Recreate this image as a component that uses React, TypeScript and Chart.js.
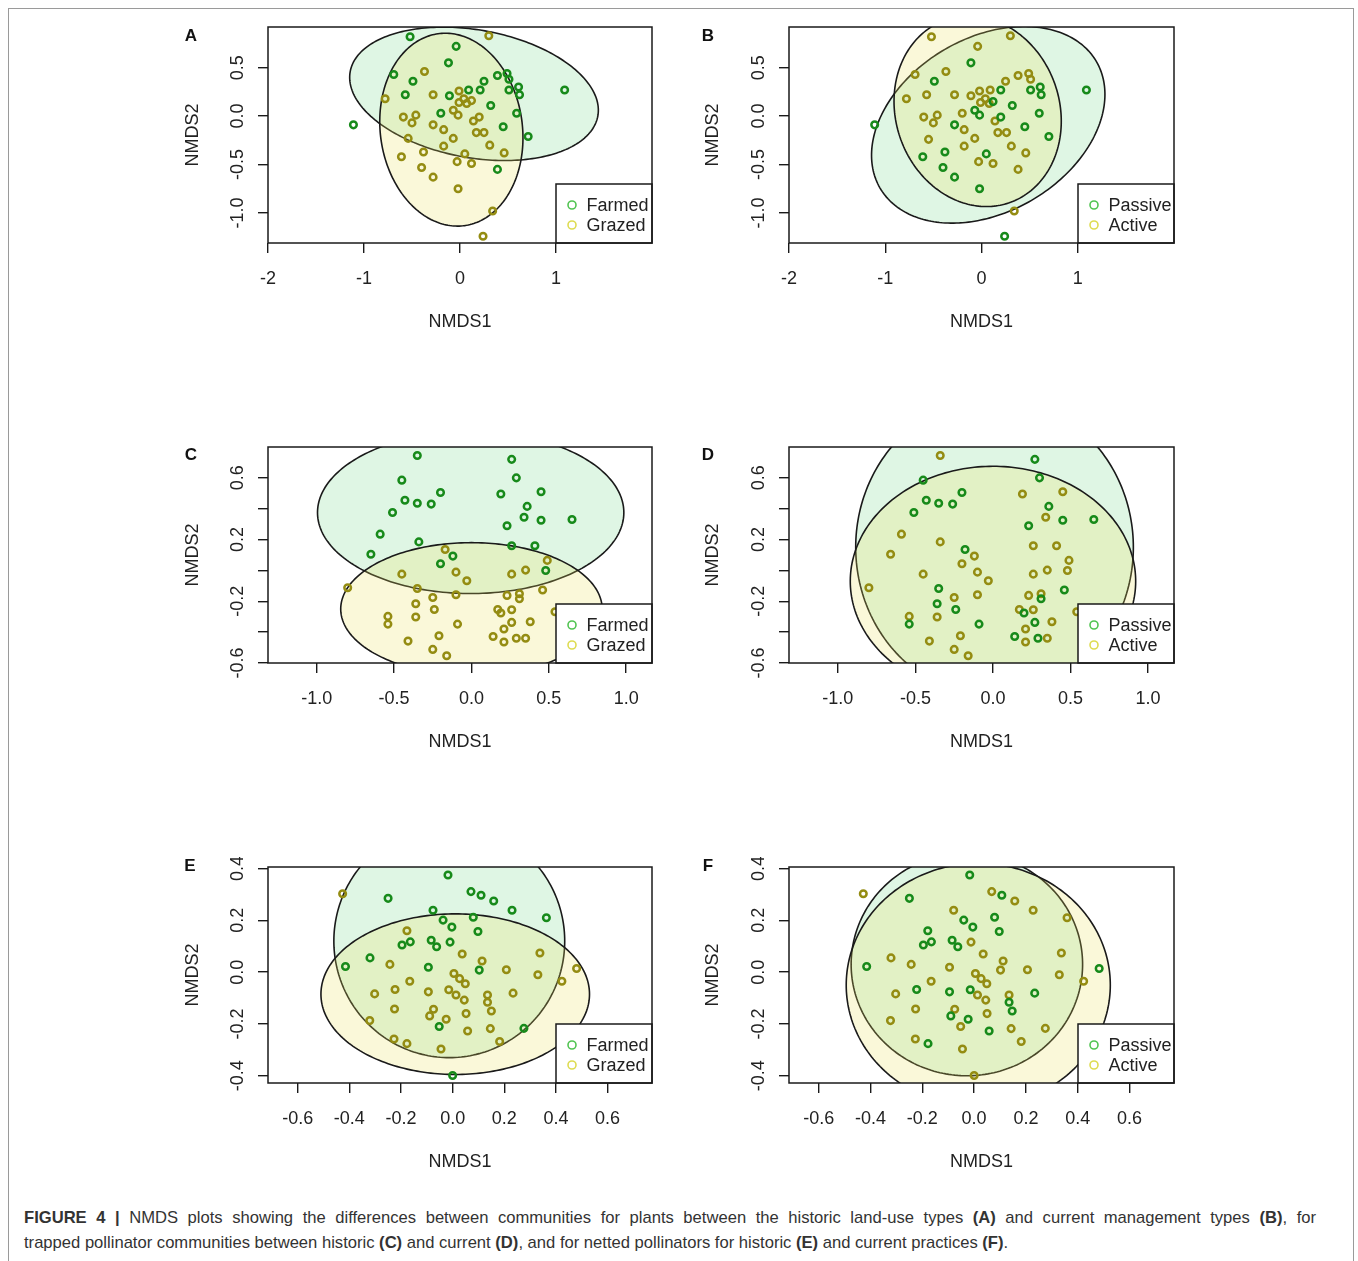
import React, { useEffect, useRef } from 'react';
import { Chart, registerables } from 'chart.js';

Chart.register(...registerables);

type Pt = [number, number];

// ---------------- Panel A (plants, historic land use) ----------------
const aFarmed: Pt[] = [
  [-0.52, 0.82], [-0.04, 0.72], [-0.12, 0.55], [-0.69, 0.43], [-0.49, 0.36], [-0.57, 0.22],
  [-0.11, 0.21], [0.09, 0.27], [0.21, 0.27], [0.25, 0.36], [0.39, 0.42], [0.49, 0.44],
  [0.51, 0.38], [0.51, 0.27], [0.61, 0.3], [0.62, 0.22], [1.09, 0.27], [0.32, 0.11],
  [0.59, 0.03], [-0.2, 0.03], [-1.11, -0.09], [0.45, -0.11], [0.71, -0.21], [0.39, -0.55],
];
const aGrazed: Pt[] = [
  [0.3, 0.83], [-0.37, 0.46], [-0.78, 0.18], [-0.28, 0.22], [-0.01, 0.26], [0.04, 0.18],
  [0.12, 0.16], [0.07, 0.13], [-0.01, 0.14], [-0.07, 0.06], [-0.02, 0.01], [-0.59, -0.01],
  [-0.46, 0.01], [-0.5, -0.07], [-0.28, -0.09], [-0.17, -0.14], [0.2, -0.01], [0.14, -0.05],
  [0.17, -0.17], [0.25, -0.17], [-0.54, -0.23], [-0.07, -0.23], [-0.17, -0.31], [0.31, -0.3],
  [0.46, -0.38], [-0.38, -0.37], [0.05, -0.39], [-0.61, -0.42], [-0.03, -0.47], [0.12, -0.49],
  [-0.4, -0.53], [-0.28, -0.63], [-0.02, -0.75], [0.34, -0.98], [0.24, -1.24],
];
// ellipse: [centre x, centre y, semi-axis a, semi-axis b, rotation in degrees]
const aFarmedEllipse = [0.146, 0.23, 1.31, 0.66, -10];
const aGrazedEllipse = [-0.09, -0.14, 1.0, 0.74, 98];

// ---------------- Panel B (plants, current management) ----------------
const bPassive: Pt[] = [
  [-0.11, 0.55], [-0.49, 0.36], [0.2, 0.27], [0.51, 0.27], [0.61, 0.3], [0.62, 0.22],
  [1.09, 0.27], [0.12, 0.15], [0.32, 0.11], [-0.07, 0.06], [-0.02, 0.01], [0.2, -0.01],
  [0.6, 0.03], [-1.11, -0.09], [-0.28, -0.09], [0.45, -0.11], [0.7, -0.21], [-0.38, -0.37],
  [0.05, -0.39], [-0.61, -0.42], [-0.4, -0.53], [-0.28, -0.63], [-0.02, -0.75], [0.24, -1.24],
];
const bActive: Pt[] = [
  [-0.52, 0.82], [0.3, 0.83], [-0.04, 0.72], [-0.37, 0.46], [-0.69, 0.43], [0.38, 0.42],
  [0.49, 0.44], [0.51, 0.38], [0.25, 0.36], [-0.78, 0.18], [-0.57, 0.22], [-0.28, 0.22],
  [-0.02, 0.26], [0.09, 0.27], [-0.11, 0.21], [0.04, 0.18], [-0.01, 0.14], [0.08, 0.13],
  [-0.6, -0.01], [-0.46, 0.01], [-0.5, -0.07], [-0.2, 0.03], [0.14, -0.05], [-0.18, -0.14],
  [0.17, -0.17], [0.26, -0.17], [-0.55, -0.24], [-0.07, -0.23], [-0.18, -0.31], [0.31, -0.31],
  [0.46, -0.38], [-0.03, -0.47], [0.12, -0.49], [0.38, -0.55], [0.34, -0.98],
];
const bPassiveEllipse = [0.07, -0.09, 1.3, 0.9, 30];
const bActiveEllipse = [-0.04, 0.05, 1.0, 0.85, 110];

// ---------------- Panel C (trapped pollinators, historic) ----------------
const cFarmed: Pt[] = [
  [-0.35, 0.745], [0.26, 0.72], [0.29, 0.6], [-0.45, 0.585], [-0.2, 0.505], [0.19, 0.495],
  [0.45, 0.51], [-0.43, 0.455], [-0.35, 0.435], [-0.26, 0.43], [0.36, 0.415], [-0.51, 0.375],
  [0.34, 0.345], [0.45, 0.325], [0.65, 0.33], [0.23, 0.29], [-0.59, 0.235], [-0.34, 0.185],
  [0.26, 0.16], [0.41, 0.16], [-0.65, 0.105], [-0.12, 0.093], [-0.2, 0.043], [0.48, 0.0],
];
const cGrazed: Pt[] = [
  [-0.17, 0.136], [-0.45, -0.024], [-0.1, -0.011], [-0.03, -0.067], [0.26, -0.024], [0.35, 0.002],
  [0.49, 0.065], [-0.8, -0.112], [-0.35, -0.117], [-0.1, -0.158], [-0.25, -0.175], [0.23, -0.162],
  [0.31, -0.151], [0.31, -0.184], [0.46, -0.127], [-0.36, -0.216], [-0.24, -0.253], [0.17, -0.253],
  [0.19, -0.276], [0.26, -0.255], [0.54, -0.268], [-0.54, -0.298], [-0.54, -0.348], [-0.36, -0.302],
  [-0.09, -0.348], [0.26, -0.337], [0.38, -0.333], [0.21, -0.38], [-0.21, -0.423], [0.14, -0.428],
  [0.29, -0.44], [0.35, -0.44], [-0.41, -0.458], [0.21, -0.464], [-0.25, -0.512], [-0.16, -0.553],
];
const cFarmedEllipse = [-0.005, 0.375, 0.99, 0.525, 0];
const cGrazedEllipse = [0.0, -0.25, 0.845, 0.43, 0];

// ---------------- Panel D (trapped pollinators, current) ----------------
const dPassive: Pt[] = [
  [0.27, 0.72], [0.3, 0.6], [-0.45, 0.585], [-0.2, 0.505], [-0.43, 0.455], [-0.35, 0.435],
  [-0.26, 0.43], [-0.51, 0.375], [0.36, 0.415], [0.45, 0.325], [0.65, 0.33], [0.23, 0.29],
  [-0.18, 0.136], [-0.35, -0.117], [-0.36, -0.216], [-0.24, -0.253], [0.2, -0.276], [0.31, -0.184],
  [0.46, -0.127], [-0.54, -0.348], [-0.09, -0.348], [0.27, -0.337], [0.14, -0.428], [0.29, -0.44],
];
const dActive: Pt[] = [
  [-0.34, 0.745], [0.19, 0.495], [0.45, 0.51], [0.34, 0.345], [-0.59, 0.235], [-0.34, 0.185],
  [0.26, 0.16], [0.41, 0.16], [-0.66, 0.105], [-0.12, 0.093], [-0.2, 0.043], [0.49, 0.065],
  [-0.45, -0.024], [-0.1, -0.011], [-0.03, -0.067], [0.26, -0.024], [0.35, 0.002], [0.48, 0.0],
  [-0.8, -0.112], [-0.1, -0.158], [-0.25, -0.175], [0.23, -0.162], [0.31, -0.151], [0.17, -0.253],
  [0.26, -0.255], [0.54, -0.268], [-0.54, -0.298], [-0.36, -0.302], [0.38, -0.333], [0.21, -0.38],
  [-0.21, -0.423], [0.35, -0.44], [-0.41, -0.458], [0.21, -0.464], [-0.25, -0.512], [-0.16, -0.553],
];
const dPassiveEllipse = [0.01, 0.15, 0.895, 0.97, 0];
const dActiveEllipse = [0.0, -0.07, 0.92, 0.745, 0];

// ---------------- Panel E (netted pollinators, historic) ----------------
const eFarmed: Pt[] = [
  [-0.018, 0.375], [-0.25, 0.285], [0.071, 0.311], [0.11, 0.297], [0.159, 0.275], [0.23, 0.239],
  [-0.076, 0.239], [0.08, 0.212], [0.363, 0.21], [-0.037, 0.201], [-0.003, 0.174], [0.098, 0.157],
  [-0.196, 0.105], [-0.164, 0.117], [-0.083, 0.123], [-0.062, 0.098], [-0.01, 0.116], [-0.32, 0.055],
  [-0.415, 0.022], [-0.094, 0.019], [0.103, 0.008], [-0.052, -0.21], [0.276, -0.217], [0.0, -0.399],
];
const eGrazed: Pt[] = [
  [-0.426, 0.303], [-0.177, 0.16], [0.037, 0.07], [0.338, 0.074], [-0.243, 0.03], [0.114, 0.043],
  [0.208, 0.009], [0.48, 0.014], [0.005, -0.005], [0.027, -0.025], [0.049, -0.045], [0.33, -0.01],
  [0.423, -0.035], [-0.166, -0.035], [-0.302, -0.084], [-0.223, -0.067], [-0.094, -0.076], [-0.015, -0.068],
  [0.013, -0.088], [0.135, -0.088], [0.234, -0.081], [0.045, -0.108], [0.135, -0.116], [-0.225, -0.142],
  [-0.074, -0.143], [-0.089, -0.169], [0.15, -0.15], [0.052, -0.16], [-0.321, -0.187], [-0.025, -0.182],
  [0.146, -0.218], [0.058, -0.227], [-0.227, -0.258], [-0.177, -0.276], [0.182, -0.268], [-0.045, -0.297],
];
const eFarmedEllipse = [-0.013, 0.12, 0.447, 0.45, 0];
const eGrazedEllipse = [0.01, -0.085, 0.52, 0.31, 0];

// ---------------- Panel F (netted pollinators, current) ----------------
const fPassive: Pt[] = [
  [-0.017, 0.375], [-0.25, 0.285], [0.107, 0.297], [0.079, 0.212], [-0.04, 0.201], [-0.005, 0.174],
  [0.097, 0.157], [-0.179, 0.16], [-0.196, 0.105], [-0.165, 0.117], [-0.085, 0.123], [-0.063, 0.098],
  [-0.415, 0.022], [0.483, 0.014], [-0.222, -0.067], [-0.095, -0.076], [-0.015, -0.068], [0.234, -0.081],
  [0.135, -0.116], [0.147, -0.15], [-0.09, -0.169], [-0.023, -0.182], [0.058, -0.227], [-0.178, -0.276],
];
const fActive: Pt[] = [
  [-0.428, 0.303], [0.068, 0.311], [0.157, 0.275], [0.228, 0.239], [-0.079, 0.239], [0.359, 0.21],
  [-0.012, 0.116], [0.035, 0.07], [0.337, 0.074], [-0.321, 0.055], [-0.243, 0.03], [-0.095, 0.019],
  [0.112, 0.043], [0.102, 0.008], [0.206, 0.009], [0.005, -0.005], [0.027, -0.025], [0.049, -0.045],
  [0.329, -0.01], [0.423, -0.035], [-0.166, -0.035], [-0.303, -0.084], [0.013, -0.088], [0.135, -0.088],
  [0.045, -0.108], [-0.226, -0.142], [-0.075, -0.143], [0.05, -0.16], [-0.323, -0.187], [-0.052, -0.21],
  [0.143, -0.218], [0.275, -0.217], [-0.227, -0.258], [0.182, -0.268], [-0.045, -0.297], [0.0, -0.399],
];
const fPassiveEllipse = [-0.028, 0.03, 0.447, 0.43, 0];
const fActiveEllipse = [0.016, -0.05, 0.51, 0.47, 0];

// ---------------- Axes ----------------
const abXRange = [-2.0, 2.0];
const abYRange = [-1.31, 0.92];
const abXTicks = [-2, -1, 0, 1];
const abXTickLabels = ['-2', '-1', '0', '1'];
const abYTicks = [-1.0, -0.5, 0.0, 0.5];
const abYTickLabels = ['-1.0', '-0.5', '0.0', '0.5'];

const cdXRange = [-1.315, 1.167];
const cdYRange = [-0.6, 0.8];
const cdXTicks = [-1.0, -0.5, 0.0, 0.5, 1.0];
const cdXTickLabels = ['-1.0', '-0.5', '0.0', '0.5', '1.0'];
const cdYTicks = [-0.6, -0.4, -0.2, 0.0, 0.2, 0.4, 0.6];
const cdYTickLabels = ['-0.6', '', '-0.2', '', '0.2', '', '0.6'];

const efXRange = [-0.715, 0.772];
const efYRange = [-0.428, 0.406];
const efXTicks = [-0.6, -0.4, -0.2, 0.0, 0.2, 0.4, 0.6];
const efXTickLabels = ['-0.6', '-0.4', '-0.2', '0.0', '0.2', '0.4', '0.6'];
const efYTicks = [-0.4, -0.2, 0.0, 0.2, 0.4];
const efYTickLabels = ['-0.4', '-0.2', '0.0', '0.2', '0.4'];

const historicLabels = ['Farmed', 'Grazed'];
const currentLabels = ['Passive', 'Active'];

// ---------------- Styles ----------------
const FONT = "'Liberation Sans', Arial, Helvetica, sans-serif";
const TEXT = '#222222';
const POINT_COLORS = ['#178a1a', '#948c12'];
const LEGEND_COLORS = ['#52c452', '#dedc52'];
const ELLIPSE_FILLS = ['rgba(130, 220, 150, 0.26)', 'rgba(235, 225, 90, 0.23)'];
const CANVAS_W = 500;
const CANVAS_H = 330;

interface PanelSpec {
  letter: string;
  letterX: number;
  letterY: number;
  left: number;
  top: number;
  chartLeft: number;
  chartRight: number;
  labels: string[];
  points: Pt[][];
  ellipses: number[][];
  xRange: number[];
  yRange: number[];
  xTicks: number[];
  xTickLabels: string[];
  yTicks: number[];
  yTickLabels: string[];
}

const panels: PanelSpec[] = [
  { letter: 'A', letterX: 191, letterY: 36, left: 170, top: 17, chartLeft: 98, chartRight: 482,
    labels: historicLabels, points: [aFarmed, aGrazed], ellipses: [aFarmedEllipse, aGrazedEllipse],
    xRange: abXRange, yRange: abYRange, xTicks: abXTicks, xTickLabels: abXTickLabels, yTicks: abYTicks, yTickLabels: abYTickLabels },
  { letter: 'B', letterX: 708, letterY: 36, left: 690, top: 17, chartLeft: 99, chartRight: 484,
    labels: currentLabels, points: [bPassive, bActive], ellipses: [bPassiveEllipse, bActiveEllipse],
    xRange: abXRange, yRange: abYRange, xTicks: abXTicks, xTickLabels: abXTickLabels, yTicks: abYTicks, yTickLabels: abYTickLabels },
  { letter: 'C', letterX: 191, letterY: 455, left: 170, top: 437, chartLeft: 98, chartRight: 482,
    labels: historicLabels, points: [cFarmed, cGrazed], ellipses: [cFarmedEllipse, cGrazedEllipse],
    xRange: cdXRange, yRange: cdYRange, xTicks: cdXTicks, xTickLabels: cdXTickLabels, yTicks: cdYTicks, yTickLabels: cdYTickLabels },
  { letter: 'D', letterX: 708, letterY: 455, left: 690, top: 437, chartLeft: 99, chartRight: 484,
    labels: currentLabels, points: [dPassive, dActive], ellipses: [dPassiveEllipse, dActiveEllipse],
    xRange: cdXRange, yRange: cdYRange, xTicks: cdXTicks, xTickLabels: cdXTickLabels, yTicks: cdYTicks, yTickLabels: cdYTickLabels },
  { letter: 'E', letterX: 190, letterY: 866, left: 170, top: 857, chartLeft: 98, chartRight: 482,
    labels: historicLabels, points: [eFarmed, eGrazed], ellipses: [eFarmedEllipse, eGrazedEllipse],
    xRange: efXRange, yRange: efYRange, xTicks: efXTicks, xTickLabels: efXTickLabels, yTicks: efYTicks, yTickLabels: efYTickLabels },
  { letter: 'F', letterX: 708, letterY: 866, left: 690, top: 857, chartLeft: 99, chartRight: 484,
    labels: currentLabels, points: [fPassive, fActive], ellipses: [fPassiveEllipse, fActiveEllipse],
    xRange: efXRange, yRange: efYRange, xTicks: efXTicks, xTickLabels: efXTickLabels, yTicks: efYTicks, yTickLabels: efYTickLabels },
];

function makeEllipsePlugin(ellipses: number[][]) {
  return {
    id: 'ordiEllipses',
    beforeDatasetsDraw(chart: any) {
      const { ctx, chartArea } = chart;
      const xs = chart.scales.x;
      const ys = chart.scales.y;
      ctx.save();
      ctx.beginPath();
      ctx.rect(chartArea.left, chartArea.top, chartArea.right - chartArea.left, chartArea.bottom - chartArea.top);
      ctx.clip();
      ellipses.forEach((e, i) => {
        const [cx, cy, ra, rb, deg] = e;
        const th = (deg * Math.PI) / 180;
        ctx.beginPath();
        const n = 240;
        for (let k = 0; k <= n; k++) {
          const t = (k / n) * Math.PI * 2;
          const dx = ra * Math.cos(t);
          const dy = rb * Math.sin(t);
          const vx = cx + dx * Math.cos(th) - dy * Math.sin(th);
          const vy = cy + dx * Math.sin(th) + dy * Math.cos(th);
          const px = xs.getPixelForValue(vx);
          const py = ys.getPixelForValue(vy);
          if (k === 0) ctx.moveTo(px, py);
          else ctx.lineTo(px, py);
        }
        ctx.closePath();
        ctx.fillStyle = ELLIPSE_FILLS[i];
        ctx.fill();
        ctx.lineWidth = 1.6;
        ctx.strokeStyle = '#1a1a1a';
        ctx.stroke();
      });
      ctx.restore();
    },
  };
}

function makeFramePlugin(spec: PanelSpec) {
  return {
    id: 'rFrame',
    afterDraw(chart: any) {
      const { ctx, chartArea } = chart;
      const ys = chart.scales.y;
      ctx.save();
      // legend box (bottom right, inside plot)
      const bw = 96;
      const bh = 59;
      const bx = chartArea.right - bw;
      const by = chartArea.bottom - bh;
      ctx.fillStyle = '#ffffff';
      ctx.fillRect(bx, by, bw, bh);
      ctx.lineWidth = 1.5;
      ctx.strokeStyle = '#1a1a1a';
      ctx.strokeRect(bx, by, bw, bh);
      ctx.font = `18px ${FONT}`;
      ctx.textAlign = 'left';
      ctx.textBaseline = 'middle';
      chart.data.datasets.forEach((ds: any, i: number) => {
        const ry = by + 21 + i * 20;
        ctx.beginPath();
        ctx.arc(bx + 16, ry, 4, 0, Math.PI * 2);
        ctx.lineWidth = 1.6;
        ctx.strokeStyle = LEGEND_COLORS[i];
        ctx.stroke();
        ctx.fillStyle = TEXT;
        ctx.fillText(ds.label, bx + 30.5, ry + 1);
      });
      // plot box
      ctx.lineWidth = 1.5;
      ctx.strokeStyle = '#1a1a1a';
      ctx.strokeRect(chartArea.left, chartArea.top, chartArea.right - chartArea.left, chartArea.bottom - chartArea.top);
      // y tick labels, parallel to the axis (R style)
      ctx.fillStyle = TEXT;
      ctx.font = `18px ${FONT}`;
      ctx.textAlign = 'center';
      ctx.textBaseline = 'middle';
      spec.yTicks.forEach((v, i) => {
        const label = spec.yTickLabels[i];
        if (!label) return;
        ctx.save();
        ctx.translate(chartArea.left - 30, ys.getPixelForValue(v));
        ctx.rotate(-Math.PI / 2);
        ctx.fillText(label, 0, 0);
        ctx.restore();
      });
      ctx.restore();
    },
  };
}

function Panel({ spec }: { spec: PanelSpec }) {
  const ref = useRef<HTMLCanvasElement | null>(null);
  useEffect(() => {
    if (!ref.current) return;
    const chart = new Chart(ref.current, {
      type: 'scatter',
      data: {
        datasets: spec.points.map((pts, i) => ({
          label: spec.labels[i],
          data: pts.map(([x, y]) => ({ x, y })),
          pointStyle: 'circle',
          pointRadius: 3.3,
          pointHoverRadius: 3.3,
          pointBorderWidth: 2.5,
          borderColor: POINT_COLORS[i],
          backgroundColor: 'rgba(0,0,0,0)',
          showLine: false,
        })),
      },
      options: {
        animation: false,
        responsive: false,
        events: [],
        layout: { padding: { left: 0, top: 10, right: CANVAS_W - spec.chartRight, bottom: 4 } },
        plugins: { legend: { display: false }, tooltip: { enabled: false } },
        scales: {
          x: {
            type: 'linear',
            position: 'bottom',
            min: spec.xRange[0],
            max: spec.xRange[1],
            afterBuildTicks: (s: any) => {
              s.ticks = spec.xTicks.map((v) => ({ value: v }));
            },
            afterFit: (s: any) => {
              s.height = 100;
            },
            ticks: {
              autoSkip: false,
              maxRotation: 0,
              minRotation: 0,
              padding: 15,
              color: TEXT,
              font: { size: 18, family: FONT },
              callback: (_v: any, i: number) => spec.xTickLabels[i],
            },
            grid: { display: true, drawOnChartArea: false, drawTicks: true, tickLength: 10, color: '#1a1a1a', lineWidth: 1.4 },
            border: { display: false },
            title: { display: true, text: 'NMDS1', color: TEXT, font: { size: 18, family: FONT }, padding: { top: 0, bottom: 10 } },
          },
          y: {
            type: 'linear',
            position: 'left',
            min: spec.yRange[0],
            max: spec.yRange[1],
            afterBuildTicks: (s: any) => {
              s.ticks = spec.yTicks.map((v) => ({ value: v }));
            },
            afterFit: (s: any) => {
              s.width = spec.chartLeft;
            },
            ticks: { display: false },
            grid: { display: true, drawOnChartArea: false, drawTicks: true, tickLength: 10, color: '#1a1a1a', lineWidth: 1.4 },
            border: { display: false },
            title: { display: true, text: 'NMDS2', color: TEXT, font: { size: 18, family: FONT }, padding: { top: 12.2, bottom: 0 } },
          },
        },
      } as any,
      plugins: [makeEllipsePlugin(spec.ellipses), makeFramePlugin(spec)],
    } as any);
    return () => chart.destroy();
  }, [spec]);
  return (
    <>
      <canvas
        ref={ref}
        width={CANVAS_W}
        height={CANVAS_H}
        style={{ position: 'absolute', left: spec.left, top: spec.top, width: CANVAS_W, height: CANVAS_H }}
      />
      <div
        style={{
          position: 'absolute',
          left: spec.letterX,
          top: spec.letterY,
          transform: 'translate(-50%, -50%)',
          fontFamily: FONT,
          fontWeight: 'bold',
          fontSize: 17,
          lineHeight: '20px',
          color: '#111',
        }}
      >
        {spec.letter}
      </div>
    </>
  );
}

export default function App() {
  return (
    <div
      style={{
        position: 'absolute',
        left: 0,
        top: 0,
        width: 1358,
        height: 1261,
        overflow: 'hidden',
        background: '#ffffff',
      }}
    >
      <div
        style={{
          position: 'absolute',
          left: 8,
          top: 8,
          width: 1346,
          height: 1253,
          boxSizing: 'border-box',
          borderLeft: '1px solid #9a9a9a',
          borderTop: '1px solid #9a9a9a',
          borderRight: '1px solid #9a9a9a',
        }}
      />
      {panels.map((p) => (
        <Panel key={p.letter} spec={p} />
      ))}
      <div
        style={{
          position: 'absolute',
          left: 24,
          top: 1205,
          width: 1292,
          fontFamily: FONT,
          fontSize: 16.6,
          lineHeight: '25px',
          color: '#333333',
        }}
      >
        <div style={{ textAlign: 'justify', textAlignLast: 'justify', whiteSpace: 'nowrap' }}>
          <b>FIGURE 4 |</b> NMDS plots showing the differences between communities for plants between the historic land-use
          types <b>(A)</b> and current management types <b>(B)</b>, for
        </div>
        <div style={{ whiteSpace: 'nowrap' }}>
          trapped pollinator communities between historic <b>(C)</b> and current <b>(D)</b>, and for netted pollinators for
          historic <b>(E)</b> and current practices <b>(F)</b>.
        </div>
      </div>
    </div>
  );
}
